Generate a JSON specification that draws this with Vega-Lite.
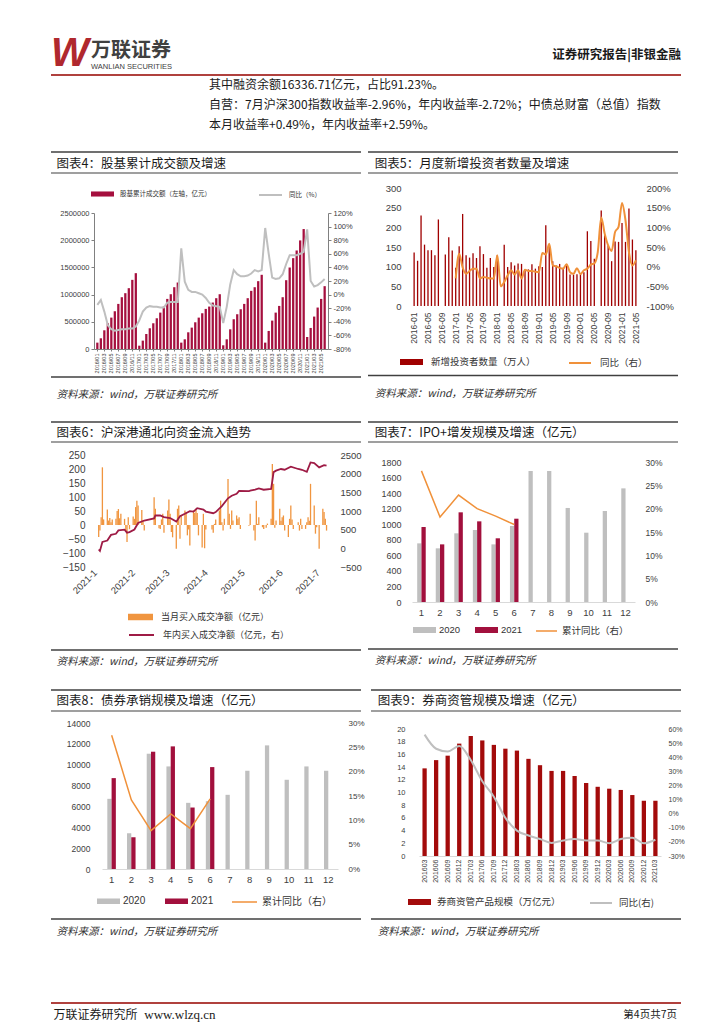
{
"$schema": "https://vega.github.io/schema/vega-lite/v6.json",
"padding": {"left": 50, "top": 28, "right": 0, "bottom": 0},
"background": "white",
"columns": 1,
"spacing": 0,
"resolve": {"scale": {"fill": "independent", "stroke": "independent", "color": "independent"}},
"config": {
  "view": {"stroke": null},
  "concat": {"spacing": 0},
  "axis": {"labelFont": "Liberation Sans", "labelColor": "#404040", "grid": false, "domain": false, "ticks": false, "labelOverlap": false, "labelBound": false, "labelFlush": false},
  "legend": {"labelFont": "Noto Sans CJK SC", "labelColor": "#333333", "padding": 0, "labelLimit": 400, "symbolStrokeWidth": 0, "titlePadding": 0},
  "text": {"font": "Noto Sans CJK SC"}
},
"datasets": {
  "c4": [
    {"m":"2016/01","v":117000,"y":-15},{"m":"2016/02","v":197000,"y":-8},{"m":"2016/03","v":344000,"y":-25},{"m":"2016/04","v":473000,"y":-45},{"m":"2016/05","v":577000,"y":-51},{"m":"2016/06","v":694000,"y":-53},{"m":"2016/07","v":829000,"y":-52},{"m":"2016/08","v":952000,"y":-51},{"m":"2016/09","v":1026000,"y":-51},{"m":"2016/10","v":1118000,"y":-50},{"m":"2016/11","v":1271000,"y":-50},{"m":"2016/12","v":1394000,"y":-47},
    {"m":"2017/01","v":61000,"y":-38},{"m":"2017/02","v":154000,"y":-25},{"m":"2017/03","v":276000,"y":-19},{"m":"2017/04","v":381000,"y":-17},{"m":"2017/05","v":473000,"y":-18},{"m":"2017/06","v":565000,"y":-18},{"m":"2017/07","v":669000,"y":-19},{"m":"2017/08","v":780000,"y":-19},{"m":"2017/09","v":921000,"y":-12},{"m":"2017/10","v":1007000,"y":-11},{"m":"2017/11","v":1136000,"y":-11},{"m":"2017/12","v":1222000,"y":-11},
    {"m":"2018/01","v":117000,"y":68},{"m":"2018/02","v":178000,"y":19},{"m":"2018/03","v":307000,"y":7},{"m":"2018/04","v":393000,"y":4},{"m":"2018/05","v":491000,"y":4},{"m":"2018/06","v":577000,"y":2},{"m":"2018/07","v":657000,"y":0},{"m":"2018/08","v":737000,"y":-5},{"m":"2018/09","v":780000,"y":-12},{"m":"2018/10","v":854000,"y":-16},{"m":"2018/11","v":934000,"y":-17},{"m":"2018/12","v":1007000,"y":-18},
    {"m":"2019/01","v":68000,"y":-42},{"m":"2019/02","v":178000,"y":-18},{"m":"2019/03","v":362000,"y":15},{"m":"2019/04","v":547000,"y":36},{"m":"2019/05","v":639000,"y":30},{"m":"2019/06","v":731000,"y":27},{"m":"2019/07","v":829000,"y":27},{"m":"2019/08","v":934000,"y":28},{"m":"2019/09","v":1069000,"y":31},{"m":"2019/10","v":1136000,"y":36},{"m":"2019/11","v":1247000,"y":34},{"m":"2019/12","v":1364000,"y":36},
    {"m":"2020/01","v":117000,"y":98},{"m":"2020/02","v":332000,"y":60},{"m":"2020/03","v":522000,"y":25},{"m":"2020/04","v":669000,"y":23},{"m":"2020/05","v":792000,"y":24},{"m":"2020/06","v":952000,"y":30},{"m":"2020/07","v":1265000,"y":45},{"m":"2020/08","v":1498000,"y":58},{"m":"2020/09","v":1670000,"y":58},{"m":"2020/10","v":1811000,"y":58},{"m":"2020/11","v":1996000,"y":60},{"m":"2020/12","v":2205000,"y":63},
    {"m":"2021/01","v":221000,"y":96},{"m":"2021/02","v":387000,"y":20},{"m":"2021/03","v":596000,"y":12},{"m":"2021/04","v":762000,"y":14},{"m":"2021/05","v":921000,"y":18},{"m":"2021/06","v":1155000,"y":23}
  ],
  "c5": [
    {"m":"2016-01","v":136,"y":null},{"m":"2016-02","v":115,"y":null},{"m":"2016-03","v":230,"y":null},{"m":"2016-04","v":156,"y":null},{"m":"2016-05","v":142,"y":null},{"m":"2016-06","v":142,"y":null},{"m":"2016-07","v":129,"y":null},{"m":"2016-08","v":220,"y":null},{"m":"2016-09","v":null,"y":null},{"m":"2016-10","v":131,"y":null},{"m":"2016-11","v":175,"y":null},{"m":"2016-12","v":141,"y":null},
    {"m":"2017-01","v":97,"y":-30},{"m":"2017-02","v":152,"y":33},{"m":"2017-03","v":234,"y":-2},{"m":"2017-04","v":129,"y":-18},{"m":"2017-05","v":123,"y":-11},{"m":"2017-06","v":134,"y":-5},{"m":"2017-07","v":122,"y":-5},{"m":"2017-08","v":152,"y":-30},{"m":"2017-09","v":132,"y":-26},{"m":"2017-10","v":97,"y":-28},{"m":"2017-11","v":122,"y":-30},{"m":"2017-12","v":99,"y":-30},
    {"m":"2018-01","v":129,"y":29},{"m":"2018-02","v":null,"y":-50},{"m":"2018-03","v":156,"y":-39},{"m":"2018-04","v":99,"y":-22},{"m":"2018-05","v":111,"y":-9},{"m":"2018-06","v":103,"y":-20},{"m":"2018-07","v":108,"y":-9},{"m":"2018-08","v":107,"y":-30},{"m":"2018-09","v":93,"y":-8},{"m":"2018-10","v":93,"y":-11},{"m":"2018-11","v":106,"y":-11},{"m":"2018-12","v":95,"y":-13},
    {"m":"2019-01","v":101,"y":-14},{"m":"2019-02","v":99,"y":35},{"m":"2019-03","v":205,"y":31},{"m":"2019-04","v":150,"y":58},{"m":"2019-05","v":114,"y":3},{"m":"2019-06","v":103,"y":1},{"m":"2019-07","v":107,"y":-3},{"m":"2019-08","v":97,"y":-5},{"m":"2019-09","v":103,"y":6},{"m":"2019-10","v":80,"y":-14},{"m":"2019-11","v":80,"y":-18},{"m":"2019-12","v":81,"y":-4},
    {"m":"2020-01","v":80,"y":-19},{"m":"2020-02","v":86,"y":-9},{"m":"2020-03","v":190,"y":-5},{"m":"2020-04","v":165,"y":5},{"m":"2020-05","v":120,"y":8},{"m":"2020-06","v":null,"y":37},{"m":"2020-07","v":243,"y":125},{"m":"2020-08","v":180,"y":84},{"m":"2020-09","v":154,"y":54},{"m":"2020-10","v":114,"y":40},{"m":"2020-11","v":164,"y":88},{"m":"2020-12","v":163,"y":101},
    {"m":"2021-01","v":211,"y":162},{"m":"2021-02","v":163,"y":118},{"m":"2021-03","v":248,"y":37},{"m":"2021-04","v":169,"y":3},{"m":"2021-05","v":142,"y":16}
  ],
  "c6f": [
    {"d":"2021-01-04","f":-43},{"d":"2021-01-05","f":-20},{"d":"2021-01-06","f":28},{"d":"2021-01-07","f":206},{"d":"2021-01-08","f":20},{"d":"2021-01-11","f":55},{"d":"2021-01-12","f":16},{"d":"2021-01-13","f":25},{"d":"2021-01-14","f":10},{"d":"2021-01-15","f":20},{"d":"2021-01-18","f":22},{"d":"2021-01-19","f":50},{"d":"2021-01-20","f":57},{"d":"2021-01-21","f":24},{"d":"2021-01-22","f":40},{"d":"2021-01-25","f":22},{"d":"2021-01-26","f":-25},{"d":"2021-01-27","f":-61},{"d":"2021-01-28","f":28},{"d":"2021-01-29","f":-15},
    {"d":"2021-02-01","f":30},{"d":"2021-02-02","f":22},{"d":"2021-02-03","f":64},{"d":"2021-02-04","f":87},{"d":"2021-02-05","f":70},{"d":"2021-02-08","f":54},{"d":"2021-02-09","f":16},{"d":"2021-02-10","f":-20},{"d":"2021-02-18","f":99},{"d":"2021-02-19","f":58},{"d":"2021-02-22","f":-12},{"d":"2021-02-23","f":-14},{"d":"2021-02-24","f":20},{"d":"2021-02-25","f":40},{"d":"2021-02-26","f":-28},
    {"d":"2021-03-01","f":52},{"d":"2021-03-02","f":91},{"d":"2021-03-03","f":40},{"d":"2021-03-04","f":-25},{"d":"2021-03-05","f":-44},{"d":"2021-03-08","f":-85},{"d":"2021-03-09","f":58},{"d":"2021-03-10","f":70},{"d":"2021-03-11","f":-49},{"d":"2021-03-12","f":34},{"d":"2021-03-15","f":52},{"d":"2021-03-16","f":46},{"d":"2021-03-17","f":-37},{"d":"2021-03-18","f":-16},{"d":"2021-03-19","f":-73},{"d":"2021-03-22","f":52},{"d":"2021-03-23","f":43},{"d":"2021-03-24","f":58},{"d":"2021-03-25","f":43},{"d":"2021-03-26","f":-37},{"d":"2021-03-29","f":-80},{"d":"2021-03-30","f":40},{"d":"2021-03-31","f":-83},
    {"d":"2021-04-01","f":-16},{"d":"2021-04-06","f":-16},{"d":"2021-04-07","f":-28},{"d":"2021-04-08","f":4},{"d":"2021-04-09","f":20},{"d":"2021-04-12","f":52},{"d":"2021-04-13","f":87},{"d":"2021-04-14","f":10},{"d":"2021-04-15","f":-20},{"d":"2021-04-16","f":22},{"d":"2021-04-19","f":164},{"d":"2021-04-20","f":40},{"d":"2021-04-21","f":-14},{"d":"2021-04-22","f":52},{"d":"2021-04-23","f":16},{"d":"2021-04-26","f":34},{"d":"2021-04-27","f":22},{"d":"2021-04-28","f":28},{"d":"2021-04-29","f":-14},
    {"d":"2021-05-06","f":-3},{"d":"2021-05-07","f":40},{"d":"2021-05-10","f":-20},{"d":"2021-05-11","f":-55},{"d":"2021-05-12","f":87},{"d":"2021-05-13","f":4},{"d":"2021-05-14","f":28},{"d":"2021-05-17","f":-8},{"d":"2021-05-18","f":-14},{"d":"2021-05-20","f":-10},{"d":"2021-05-21","f":5},{"d":"2021-05-24","f":22},{"d":"2021-05-25","f":218},{"d":"2021-05-26","f":147},{"d":"2021-05-27","f":-10},{"d":"2021-05-28","f":16},{"d":"2021-05-31","f":58},
    {"d":"2021-06-01","f":15},{"d":"2021-06-02","f":28},{"d":"2021-06-03","f":34},{"d":"2021-06-04","f":-20},{"d":"2021-06-07","f":-43},{"d":"2021-06-08","f":22},{"d":"2021-06-09","f":70},{"d":"2021-06-10","f":20},{"d":"2021-06-11","f":-14},{"d":"2021-06-15","f":10},{"d":"2021-06-16","f":-20},{"d":"2021-06-17","f":22},{"d":"2021-06-18","f":-14},{"d":"2021-06-21","f":-14},{"d":"2021-06-22","f":10},{"d":"2021-06-23","f":28},{"d":"2021-06-24","f":15},{"d":"2021-06-25","f":147},{"d":"2021-06-28","f":70},{"d":"2021-06-29","f":-31},{"d":"2021-06-30","f":-8},
    {"d":"2021-07-02","f":-85},{"d":"2021-07-05","f":58},{"d":"2021-07-06","f":46},{"d":"2021-07-07","f":22},{"d":"2021-07-08","f":-20}
  ],
  "c6c": [
    {"d":"2021-01-04","c":-30},{"d":"2021-01-05","c":-70},{"d":"2021-01-07","c":170},{"d":"2021-01-11","c":210},{"d":"2021-01-14","c":360},{"d":"2021-01-18","c":390},{"d":"2021-01-20","c":480},{"d":"2021-01-25","c":500},{"d":"2021-01-27","c":420},{"d":"2021-01-29","c":435},
    {"d":"2021-02-02","c":505},{"d":"2021-02-05","c":680},{"d":"2021-02-10","c":745},{"d":"2021-02-18","c":800},{"d":"2021-02-19","c":880},{"d":"2021-02-23","c":880},{"d":"2021-02-26","c":835},
    {"d":"2021-03-03","c":810},{"d":"2021-03-08","c":715},{"d":"2021-03-11","c":860},{"d":"2021-03-15","c":925},{"d":"2021-03-19","c":995},{"d":"2021-03-22","c":985},{"d":"2021-03-25","c":1075},{"d":"2021-03-30","c":1040},
    {"d":"2021-04-01","c":985},{"d":"2021-04-07","c":940},{"d":"2021-04-09","c":970},{"d":"2021-04-14","c":1130},{"d":"2021-04-19","c":1340},{"d":"2021-04-22","c":1410},{"d":"2021-04-26","c":1460},{"d":"2021-04-28","c":1540},
    {"d":"2021-05-06","c":1530},{"d":"2021-05-07","c":1545},{"d":"2021-05-11","c":1570},{"d":"2021-05-14","c":1605},{"d":"2021-05-18","c":1570},{"d":"2021-05-24","c":1590},{"d":"2021-05-25","c":1810},{"d":"2021-05-26","c":2040},{"d":"2021-05-28","c":2080},
    {"d":"2021-06-01","c":2125},{"d":"2021-06-04","c":2105},{"d":"2021-06-09","c":2185},{"d":"2021-06-15","c":2125},{"d":"2021-06-18","c":2105},{"d":"2021-06-22","c":2050},{"d":"2021-06-25","c":2300},{"d":"2021-06-28","c":2285},
    {"d":"2021-07-02","c":2170},{"d":"2021-07-06","c":2230},{"d":"2021-07-08","c":2215}
  ],
  "c7b": [
    {"mo":1,"yr":"2020","v":754},{"mo":2,"yr":"2020","v":690},{"mo":3,"yr":"2020","v":883},{"mo":4,"yr":"2020","v":926},{"mo":5,"yr":"2020","v":741},{"mo":6,"yr":"2020","v":977},{"mo":7,"yr":"2020","v":1684},{"mo":8,"yr":"2020","v":1684},{"mo":9,"yr":"2020","v":1209},{"mo":10,"yr":"2020","v":891},{"mo":11,"yr":"2020","v":1170},{"mo":12,"yr":"2020","v":1461},
    {"mo":1,"yr":"2021","v":964},{"mo":2,"yr":"2021","v":741},{"mo":3,"yr":"2021","v":1153},{"mo":4,"yr":"2021","v":1037},{"mo":5,"yr":"2021","v":819},{"mo":6,"yr":"2021","v":1071}
  ],
  "c7l": [{"mo":1,"r":28.1},{"mo":2,"r":18.2},{"mo":3,"r":22.9},{"mo":4,"r":20.0},{"mo":5,"r":18.4},{"mo":6,"r":16.6}],
  "c8b": [
    {"mo":1,"yr":"2020","v":6729},{"mo":2,"yr":"2020","v":3428},{"mo":3,"yr":"2020","v":11054},{"mo":4,"yr":"2020","v":9836},{"mo":5,"yr":"2020","v":6344},{"mo":6,"yr":"2020","v":6500},{"mo":7,"yr":"2020","v":7113},{"mo":8,"yr":"2020","v":9420},{"mo":9,"yr":"2020","v":11855},{"mo":10,"yr":"2020","v":8555},{"mo":11,"yr":"2020","v":9836},{"mo":12,"yr":"2020","v":9420},
    {"mo":1,"yr":"2021","v":8715},{"mo":2,"yr":"2021","v":3044},{"mo":3,"yr":"2021","v":11246},{"mo":4,"yr":"2021","v":11759},{"mo":5,"yr":"2021","v":5895},{"mo":6,"yr":"2021","v":9772}
  ],
  "c8l": [{"mo":1,"r":27.5},{"mo":2,"r":14.2},{"mo":3,"r":7.9},{"mo":4,"r":11.3},{"mo":5,"r":8.3},{"mo":6,"r":14.4}],
  "c9": [
    {"q":"201603","v":13.8,"y":56},{"q":"201606","v":15.1,"y":46},{"q":"201609","v":15.8,"y":44},{"q":"201612","v":17.7,"y":48},{"q":"201703","v":18.9,"y":38},{"q":"201706","v":18.2,"y":23},{"q":"201709","v":17.5,"y":12},{"q":"201712","v":16.9,"y":-3},{"q":"201803","v":16.6,"y":-12},{"q":"201806","v":15.3,"y":-15.5},{"q":"201809","v":14.3,"y":-18},{"q":"201812","v":13.4,"y":-20.7},{"q":"201903","v":13.4,"y":-19},{"q":"201906","v":12.6,"y":-18},{"q":"201909","v":11.5,"y":-19},{"q":"201912","v":10.9,"y":-19},{"q":"202003","v":10.6,"y":-21},{"q":"202006","v":10.4,"y":-18},{"q":"202009","v":9.6,"y":-17},{"q":"202012","v":8.7,"y":-21},{"q":"202103","v":8.7,"y":-18.5}
  ]
},
"concat": [
  {"width": 630, "height": 50, "data": {"values": [{}]},
   "layer": [
    {"mark": {"type":"text","text":"W","font":"Liberation Sans","fontSize":40,"fontWeight":"bold","fontStyle":"italic","color":"#B0282E","align":"left","baseline":"alphabetic"},
     "encoding": {"x":{"datum":0,"type":"quantitative","scale":{"domain":[0,1],"nice":false},"axis":null},"y":{"datum":38,"type":"quantitative","scale":{"domain":[0,50],"nice":false,"reverse":true},"axis":null}}},
    {"mark": {"type":"text","text":"万联证券","font":"Noto Sans CJK SC","fontSize":20,"fontWeight":"bold","color":"#404040","align":"left","baseline":"alphabetic"},
     "encoding": {"x":{"datum":0.0635,"type":"quantitative","scale":{"domain":[0,1],"nice":false},"axis":null},"y":{"datum":29,"type":"quantitative","scale":{"domain":[0,50],"nice":false,"reverse":true},"axis":null}}},
    {"mark": {"type":"text","text":"WANLIAN SECURITIES","font":"Liberation Sans","fontSize":7.5,"color":"#404040","align":"left","baseline":"alphabetic"},
     "encoding": {"x":{"datum":0.0635,"type":"quantitative","scale":{"domain":[0,1],"nice":false},"axis":null},"y":{"datum":41,"type":"quantitative","scale":{"domain":[0,50],"nice":false,"reverse":true},"axis":null}}},
    {"mark": {"type":"text","text":"证券研究报告|非银金融","font":"Noto Sans CJK SC","fontSize":12.5,"fontWeight":"bold","color":"#1a1a1a","align":"right","baseline":"middle"},
     "encoding": {"x":{"datum":1,"type":"quantitative","scale":{"domain":[0,1],"nice":false},"axis":null},"y":{"datum":27,"type":"quantitative","scale":{"domain":[0,50],"nice":false,"reverse":true},"axis":null}}},
    {"mark": {"type":"rule","color":"#B0413E","strokeWidth":2},
     "encoding": {"x":{"datum":0,"type":"quantitative","scale":{"domain":[0,1],"nice":false},"axis":null},"x2":{"datum":1},"y":{"datum":47,"type":"quantitative","scale":{"domain":[0,50],"nice":false,"reverse":true},"axis":null}}}
   ]},
  {"width": 630, "height": 68,
   "data": {"values": [{"line":1,"text":"其中融资余额16336.71亿元，占比91.23%。"},{"line":2,"text":"自营：7月沪深300指数收益率-2.96%，年内收益率-2.72%；中债总财富（总值）指数"},{"line":3,"text":"本月收益率+0.49%，年内收益率+2.59%。"}]},
   "mark": {"type":"text","align":"left","baseline":"middle","font":"Noto Sans CJK SC","fontSize":12,"color":"#1a1a1a"},
   "encoding": {"x":{"datum":0.2508,"type":"quantitative","scale":{"domain":[0,1],"nice":false},"axis":null},"y":{"field":"line","type":"quantitative","scale":{"domain":[0.75,4.15],"nice":false,"reverse":true},"axis":null},"text":{"field":"text"}}},
  {"columns": 2, "spacing": 5,
   "resolve": {"scale": {"fill": "independent", "stroke": "independent", "color": "independent"}},
   "concat": [
    {"columns": 1, "spacing": 0,
     "resolve": {"scale": {"fill": "independent", "stroke": "independent", "color": "independent"}},
     "concat": [
      {"width":310,"height":33.5,"data":{"values":[{"t":"图表4：股基累计成交额及增速"}]},
       "layer":[
        {"mark":{"type":"rule","color":"#404040","strokeWidth":1.5},"encoding":{"x":{"datum":0,"type":"quantitative","scale":{"domain":[0,1],"nice":false},"axis":null},"x2":{"datum":1},"y":{"datum":4,"type":"quantitative","scale":{"domain":[0,33.5],"nice":false,"reverse":true},"axis":null}}},
        {"mark":{"type":"rule","color":"#404040","strokeWidth":1.2},"encoding":{"x":{"datum":0,"type":"quantitative","scale":{"domain":[0,1],"nice":false},"axis":null},"x2":{"datum":1},"y":{"datum":25,"type":"quantitative","scale":{"domain":[0,33.5],"nice":false,"reverse":true},"axis":null}}},
        {"mark":{"type":"text","align":"left","baseline":"middle","font":"Noto Sans CJK SC","fontSize":12.5,"color":"#1a1a1a"},"encoding":{"x":{"datum":0.018,"type":"quantitative","scale":{"domain":[0,1],"nice":false},"axis":null},"y":{"datum":15.5,"type":"quantitative","scale":{"domain":[0,33.5],"nice":false,"reverse":true},"axis":null},"text":{"field":"t"}}}
       ]},
      {"columns": 2, "spacing": 0,
       "resolve": {"scale": {"fill": "independent", "stroke": "independent", "color": "independent"}},
       "concat": [
        {"width":1,"height":1,"data":{"values":[]},"mark":"text"},
        {"width":234,"height":136,"data":{"name":"c4"},
         "encoding":{"x":{"field":"m","type":"ordinal","sort":null,"title":null,"scale":{"paddingInner":0.35,"paddingOuter":0.63},
           "axis":{"values":["2016/01","2016/03","2016/05","2016/07","2016/09","2016/11","2017/01","2017/03","2017/05","2017/07","2017/09","2017/11","2018/01","2018/03","2018/05","2018/07","2018/09","2018/11","2019/01","2019/03","2019/05","2019/07","2019/09","2019/11","2020/01","2020/03","2020/05","2020/07","2020/09","2020/11","2021/01","2021/03","2021/05"],
            "labelAngle":-90,"labelFontSize":5.5,"labelPadding":2,"domain":true,"domainColor":"#808080","ticks":true,"tickColor":"#808080","tickSize":2}}},
         "layer":[
          {"mark":{"type":"bar"},
           "encoding":{"y":{"field":"v","type":"quantitative","title":null,"scale":{"domain":[0,2500000],"nice":false},
             "axis":{"values":[0,500000,1000000,1500000,2000000,2500000],"format":"d","labelFontSize":7.5,"domain":true,"domainColor":"#808080","ticks":true,"tickColor":"#808080","tickSize":3,"labelPadding":2,"minExtent":42}},
            "fill":{"datum":"股基累计成交额（左轴，亿元）","scale":{"range":["#A50F3E"]},
             "legend":{"orient":"none","legendX":-3,"legendY":-30.5,"title":null,"symbolType":"M-1,-0.22H1V0.22H-1Z","symbolSize":529,"labelFontSize":6.5,"labelOffset":6}}}},
          {"mark":{"type":"line","strokeWidth":2},
           "encoding":{"y":{"field":"y","type":"quantitative","title":null,"scale":{"domain":[-80,120],"nice":false},
             "axis":{"orient":"right","values":[-80,-60,-40,-20,0,20,40,60,80,100,120],"labelExpr":"datum.value + '%'","labelFontSize":7.5,"domain":true,"domainColor":"#808080","ticks":true,"tickColor":"#808080","tickSize":3,"labelPadding":2}},
            "stroke":{"datum":"同比（%）","scale":{"range":["#BFBFBF"]},
             "legend":{"orient":"none","legendX":164,"legendY":-30.5,"title":null,"symbolType":"stroke","symbolSize":529,"symbolStrokeWidth":2,"labelFontSize":6.5,"labelOffset":6}}}}
         ],
         "resolve":{"scale":{"y":"independent"}}}
       ]},
      {"width":310,"height":46,"data":{"values":[{"t":"资料来源：wind，万联证券研究所"}]},
       "layer":[
        {"mark":{"type":"rule","color":"#404040","strokeWidth":1.5},"encoding":{"x":{"datum":0,"type":"quantitative","scale":{"domain":[0,1],"nice":false},"axis":null},"x2":{"datum":1},"y":{"datum":4,"type":"quantitative","scale":{"domain":[0,46],"nice":false,"reverse":true},"axis":null}}},
        {"mark":{"type":"text","align":"left","baseline":"middle","font":"Noto Sans CJK SC","fontSize":10.5,"fontStyle":"italic","color":"#333333"},"encoding":{"x":{"datum":0.018,"type":"quantitative","scale":{"domain":[0,1],"nice":false},"axis":null},"y":{"datum":21.5,"type":"quantitative","scale":{"domain":[0,46],"nice":false,"reverse":true},"axis":null},"text":{"field":"t"}}}
       ]}
    ]},
    {"columns": 1, "spacing": 0,
     "resolve": {"scale": {"fill": "independent", "stroke": "independent", "color": "independent"}},
     "concat": [
      {"width":310,"height":35,"data":{"values":[{"t":"图表5：月度新增投资者数量及增速"}]},
       "layer":[
        {"mark":{"type":"rule","color":"#404040","strokeWidth":1.5},"encoding":{"x":{"datum":0,"type":"quantitative","scale":{"domain":[0,1],"nice":false},"axis":null},"x2":{"datum":1},"y":{"datum":4,"type":"quantitative","scale":{"domain":[0,35],"nice":false,"reverse":true},"axis":null}}},
        {"mark":{"type":"rule","color":"#404040","strokeWidth":1.2},"encoding":{"x":{"datum":0,"type":"quantitative","scale":{"domain":[0,1],"nice":false},"axis":null},"x2":{"datum":1},"y":{"datum":25,"type":"quantitative","scale":{"domain":[0,35],"nice":false,"reverse":true},"axis":null}}},
        {"mark":{"type":"text","align":"left","baseline":"middle","font":"Noto Sans CJK SC","fontSize":12.5,"color":"#1a1a1a"},"encoding":{"x":{"datum":0.022,"type":"quantitative","scale":{"domain":[0,1],"nice":false},"axis":null},"y":{"datum":15.5,"type":"quantitative","scale":{"domain":[0,35],"nice":false,"reverse":true},"axis":null},"text":{"field":"t"}}}
       ]},
      {"columns": 2, "spacing": 0,
       "resolve": {"scale": {"fill": "independent", "stroke": "independent", "color": "independent"}},
       "concat": [
        {"width":1,"height":1,"data":{"values":[]},"mark":"text"},
        {"width":230,"height":118,"data":{"name":"c5"},
         "encoding":{"x":{"field":"m","type":"ordinal","title":null,
           "scale":{"domain":["2016-01","2016-02","2016-03","2016-04","2016-05","2016-06","2016-07","2016-08","2016-09","2016-10","2016-11","2016-12","2017-01","2017-02","2017-03","2017-04","2017-05","2017-06","2017-07","2017-08","2017-09","2017-10","2017-11","2017-12","2018-01","2018-02","2018-03","2018-04","2018-05","2018-06","2018-07","2018-08","2018-09","2018-10","2018-11","2018-12","2019-01","2019-02","2019-03","2019-04","2019-05","2019-06","2019-07","2019-08","2019-09","2019-10","2019-11","2019-12","2020-01","2020-02","2020-03","2020-04","2020-05","2020-06","2020-07","2020-08","2020-09","2020-10","2020-11","2020-12","2021-01","2021-02","2021-03","2021-04","2021-05"],"paddingInner":0.62,"paddingOuter":1.2},
           "axis":{"values":["2016-01","2016-05","2016-09","2017-01","2017-05","2017-09","2018-01","2018-05","2018-09","2019-01","2019-05","2019-09","2020-01","2020-05","2020-09","2021-01","2021-05"],"labelAngle":-90,"labelFontSize":8.5,"labelPadding":6}}},
         "layer":[
          {"mark":{"type":"bar"},
           "encoding":{"y":{"field":"v","type":"quantitative","title":null,"scale":{"domain":[0,300],"nice":false},
             "axis":{"values":[0,50,100,150,200,250,300],"labelFontSize":9.5,"labelPadding":9,"minExtent":41}},
            "fill":{"datum":"新增投资者数量（万人）","scale":{"range":["#A00000"]},
             "legend":{"orient":"none","legendX":-10,"legendY":162.5,"title":null,"symbolType":"M-1,-0.26H1V0.26H-1Z","symbolSize":529,"labelFontSize":9.5,"labelOffset":8}}}},
          {"mark":{"type":"line","strokeWidth":2,"interpolate":"monotone"},
           "encoding":{"y":{"field":"y","type":"quantitative","title":null,"scale":{"domain":[-100,200],"nice":false},
             "axis":{"orient":"right","values":[-100,-50,0,50,100,150,200],"labelExpr":"datum.value + '%'","labelFontSize":9.5,"labelPadding":6}},
            "stroke":{"datum":"同比（右）","scale":{"range":["#F0913A"]},
             "legend":{"orient":"none","legendX":158,"legendY":163,"title":null,"symbolType":"stroke","symbolSize":484,"symbolStrokeWidth":2,"labelFontSize":9.5,"labelOffset":8}}}}
         ],
         "resolve":{"scale":{"y":"independent"}}}
       ]},
      {"width":310,"height":50.5,"data":{"values":[{"t":"资料来源：wind，万联证券研究所"}]},
       "layer":[
        {"mark":{"type":"rule","color":"#404040","strokeWidth":1.5},"encoding":{"x":{"datum":0,"type":"quantitative","scale":{"domain":[0,1],"nice":false},"axis":null},"x2":{"datum":1},"y":{"datum":7.5,"type":"quantitative","scale":{"domain":[0,50.5],"nice":false,"reverse":true},"axis":null}}},
        {"mark":{"type":"text","align":"left","baseline":"middle","font":"Noto Sans CJK SC","fontSize":10.5,"fontStyle":"italic","color":"#333333"},"encoding":{"x":{"datum":0.022,"type":"quantitative","scale":{"domain":[0,1],"nice":false},"axis":null},"y":{"datum":25.5,"type":"quantitative","scale":{"domain":[0,50.5],"nice":false,"reverse":true},"axis":null},"text":{"field":"t"}}}
       ]}
    ]}
  ]},
  {"columns": 2, "spacing": 5,
   "resolve": {"scale": {"fill": "independent", "stroke": "independent", "color": "independent"}},
   "concat": [
    {"columns": 1, "spacing": 0,
     "resolve": {"scale": {"fill": "independent", "stroke": "independent", "color": "independent"}},
     "concat": [
      {"width":310,"height":31,"data":{"values":[{"t":"图表6：沪深港通北向资金流入趋势"}]},
       "layer":[
        {"mark":{"type":"rule","color":"#404040","strokeWidth":1.5},"encoding":{"x":{"datum":0,"type":"quantitative","scale":{"domain":[0,1],"nice":false},"axis":null},"x2":{"datum":1},"y":{"datum":3,"type":"quantitative","scale":{"domain":[0,31],"nice":false,"reverse":true},"axis":null}}},
        {"mark":{"type":"rule","color":"#404040","strokeWidth":1.2},"encoding":{"x":{"datum":0,"type":"quantitative","scale":{"domain":[0,1],"nice":false},"axis":null},"x2":{"datum":1},"y":{"datum":23,"type":"quantitative","scale":{"domain":[0,31],"nice":false,"reverse":true},"axis":null}}},
        {"mark":{"type":"text","align":"left","baseline":"middle","font":"Noto Sans CJK SC","fontSize":12.5,"color":"#1a1a1a"},"encoding":{"x":{"datum":0.018,"type":"quantitative","scale":{"domain":[0,1],"nice":false},"axis":null},"y":{"datum":13.5,"type":"quantitative","scale":{"domain":[0,31],"nice":false,"reverse":true},"axis":null},"text":{"field":"t"}}}
       ]},
      {"columns": 2, "spacing": 0,
       "resolve": {"scale": {"fill": "independent", "stroke": "independent", "color": "independent"}},
       "concat": [
        {"width":1,"height":1,"data":{"values":[]},"mark":"text"},
        {"width":244,"height":112,
         "layer":[
          {"data":{"name":"c6f"},"mark":{"type":"bar","width":1.3},
           "encoding":{"x":{"field":"d","type":"temporal","title":null,"scale":{"domain":[{"year":2021,"month":1,"date":1},{"year":2021,"month":7,"date":10}]},
             "axis":{"values":[{"year":2021,"month":1,"date":1},{"year":2021,"month":2,"date":1},{"year":2021,"month":3,"date":1},{"year":2021,"month":4,"date":1},{"year":2021,"month":5,"date":1},{"year":2021,"month":6,"date":1},{"year":2021,"month":7,"date":1}],"format":"%Y-%-m","labelAngle":-45,"labelAlign":"right","labelBaseline":"middle","labelFontSize":9.5,"labelPadding":4}},
            "y":{"field":"f","type":"quantitative","title":null,"scale":{"domain":[-150,250],"nice":false},
             "axis":{"values":[-150,-100,-50,0,50,100,150,200,250],"format":"d","labelFontSize":10,"labelPadding":5,"minExtent":38}},
            "fill":{"datum":"当月买入成交净额（亿元）","scale":{"range":["#F0953F"]},
             "legend":{"orient":"none","legendX":38,"legendY":149.5,"title":null,"symbolType":"M-1,-0.26H1V0.26H-1Z","symbolSize":625,"labelFontSize":9,"labelOffset":8}}}},
          {"data":{"name":"c6c"},"mark":{"type":"line","strokeWidth":1.8},
           "encoding":{"x":{"field":"d","type":"temporal"},
            "y":{"field":"c","type":"quantitative","title":null,"scale":{"domain":[-500,2500],"nice":false},
             "axis":{"orient":"right","values":[-500,0,500,1000,1500,2000,2500],"format":"d","labelFontSize":9.5,"labelPadding":6}},
            "stroke":{"datum":"年内买入成交净额（亿元，右）","scale":{"range":["#9E1B45"]},
             "legend":{"orient":"none","legendX":38,"legendY":166.5,"title":null,"symbolType":"stroke","symbolSize":625,"symbolStrokeWidth":2,"labelFontSize":9,"labelOffset":8}}}}
         ],
         "resolve":{"scale":{"y":"independent"}}}
       ]},
      {"width":310,"height":44.5,"data":{"values":[{"t":"资料来源：wind，万联证券研究所"}]},
       "layer":[
        {"mark":{"type":"rule","color":"#404040","strokeWidth":1.5},"encoding":{"x":{"datum":0,"type":"quantitative","scale":{"domain":[0,1],"nice":false},"axis":null},"x2":{"datum":1},"y":{"datum":9,"type":"quantitative","scale":{"domain":[0,44.5],"nice":false,"reverse":true},"axis":null}}},
        {"mark":{"type":"text","align":"left","baseline":"middle","font":"Noto Sans CJK SC","fontSize":10.5,"fontStyle":"italic","color":"#333333"},"encoding":{"x":{"datum":0.018,"type":"quantitative","scale":{"domain":[0,1],"nice":false},"axis":null},"y":{"datum":21,"type":"quantitative","scale":{"domain":[0,44.5],"nice":false,"reverse":true},"axis":null},"text":{"field":"t"}}}
       ]}
    ]},
    {"columns": 1, "spacing": 0,
     "resolve": {"scale": {"fill": "independent", "stroke": "independent", "color": "independent"}},
     "concat": [
      {"width":310,"height":38.5,"data":{"values":[{"t":"图表7：IPO+增发规模及增速（亿元）"}]},
       "layer":[
        {"mark":{"type":"rule","color":"#404040","strokeWidth":1.5},"encoding":{"x":{"datum":0,"type":"quantitative","scale":{"domain":[0,1],"nice":false},"axis":null},"x2":{"datum":1},"y":{"datum":3,"type":"quantitative","scale":{"domain":[0,38.5],"nice":false,"reverse":true},"axis":null}}},
        {"mark":{"type":"rule","color":"#404040","strokeWidth":1.2},"encoding":{"x":{"datum":0,"type":"quantitative","scale":{"domain":[0,1],"nice":false},"axis":null},"x2":{"datum":1},"y":{"datum":23,"type":"quantitative","scale":{"domain":[0,38.5],"nice":false,"reverse":true},"axis":null}}},
        {"mark":{"type":"text","align":"left","baseline":"middle","font":"Noto Sans CJK SC","fontSize":12.5,"color":"#1a1a1a"},"encoding":{"x":{"datum":0.022,"type":"quantitative","scale":{"domain":[0,1],"nice":false},"axis":null},"y":{"datum":13.5,"type":"quantitative","scale":{"domain":[0,38.5],"nice":false,"reverse":true},"axis":null},"text":{"field":"t"}}}
       ]},
      {"columns": 2, "spacing": 0,
       "resolve": {"scale": {"fill": "independent", "stroke": "independent", "color": "independent"}},
       "concat": [
        {"width":1,"height":1,"data":{"values":[]},"mark":"text"},
        {"width":223,"height":140,
         "layer":[
          {"data":{"name":"c7b"},"mark":{"type":"bar"},
           "encoding":{"x":{"field":"mo","type":"ordinal","title":null,"scale":{"paddingInner":0.54,"paddingOuter":0.28},"axis":{"labelAngle":0,"labelFontSize":9.5,"labelPadding":5,"domain":true,"domainColor":"#D9D9D9"}},
            "xOffset":{"field":"yr","type":"nominal","scale":{"domain":["2020","2021"],"paddingInner":0,"paddingOuter":0}},
            "y":{"field":"v","type":"quantitative","title":null,"scale":{"domain":[0,1800],"nice":false},
             "axis":{"values":[0,200,400,600,800,1000,1200,1400,1600,1800],"format":"d","labelFontSize":9,"labelPadding":11,"minExtent":43}},
            "fill":{"field":"yr","type":"nominal","scale":{"domain":["2020","2021"],"range":["#BFBFBF","#A2103D"]},
             "legend":{"orient":"none","direction":"horizontal","legendX":1,"legendY":156.5,"title":null,"labelFont":"Liberation Sans","symbolType":"M-1,-0.26H1V0.26H-1Z","symbolSize":529,"labelFontSize":9.5,"labelOffset":3,"columnPadding":14}}}},
          {"data":{"name":"c7l"},"mark":{"type":"line","strokeWidth":1.5},
           "encoding":{"x":{"field":"mo","type":"ordinal"},
            "y":{"field":"r","type":"quantitative","title":null,"scale":{"domain":[0,30],"nice":false},
             "axis":{"orient":"right","values":[0,5,10,15,20,25,30],"labelExpr":"datum.value + '%'","labelFontSize":8.5,"labelPadding":10}},
            "stroke":{"datum":"累计同比（右）","scale":{"range":["#F0913A"]},
             "legend":{"orient":"none","legendX":123,"legendY":157.5,"title":null,"symbolType":"stroke","symbolSize":441,"symbolStrokeWidth":1.5,"labelFontSize":9.5,"labelOffset":4}}}}
         ],
         "resolve":{"scale":{"y":"independent"}}}
       ]},
      {"width":310,"height":48.5,"data":{"values":[{"t":"资料来源：wind，万联证券研究所"}]},
       "layer":[
        {"mark":{"type":"rule","color":"#404040","strokeWidth":1.5},"encoding":{"x":{"datum":0,"type":"quantitative","scale":{"domain":[0,1],"nice":false},"axis":null},"x2":{"datum":1},"y":{"datum":13,"type":"quantitative","scale":{"domain":[0,48.5],"nice":false,"reverse":true},"axis":null}}},
        {"mark":{"type":"text","align":"left","baseline":"middle","font":"Noto Sans CJK SC","fontSize":10.5,"fontStyle":"italic","color":"#333333"},"encoding":{"x":{"datum":0.022,"type":"quantitative","scale":{"domain":[0,1],"nice":false},"axis":null},"y":{"datum":25,"type":"quantitative","scale":{"domain":[0,48.5],"nice":false,"reverse":true},"axis":null},"text":{"field":"t"}}}
       ]}
    ]}
  ]},
  {"columns": 2, "spacing": 5,
   "resolve": {"scale": {"fill": "independent", "stroke": "independent", "color": "independent"}},
   "concat": [
    {"columns": 1, "spacing": 0,
     "resolve": {"scale": {"fill": "independent", "stroke": "independent", "color": "independent"}},
     "concat": [
      {"width":310,"height":33,"data":{"values":[{"t":"图表8：债券承销规模及增速（亿元）"}]},
       "layer":[
        {"mark":{"type":"rule","color":"#404040","strokeWidth":1.5},"encoding":{"x":{"datum":0,"type":"quantitative","scale":{"domain":[0,1],"nice":false},"axis":null},"x2":{"datum":1},"y":{"datum":4,"type":"quantitative","scale":{"domain":[0,33],"nice":false,"reverse":true},"axis":null}}},
        {"mark":{"type":"rule","color":"#404040","strokeWidth":1.2},"encoding":{"x":{"datum":0,"type":"quantitative","scale":{"domain":[0,1],"nice":false},"axis":null},"x2":{"datum":1},"y":{"datum":25,"type":"quantitative","scale":{"domain":[0,33],"nice":false,"reverse":true},"axis":null}}},
        {"mark":{"type":"text","align":"left","baseline":"middle","font":"Noto Sans CJK SC","fontSize":12.5,"color":"#1a1a1a"},"encoding":{"x":{"datum":0.018,"type":"quantitative","scale":{"domain":[0,1],"nice":false},"axis":null},"y":{"datum":15,"type":"quantitative","scale":{"domain":[0,33],"nice":false,"reverse":true},"axis":null},"text":{"field":"t"}}}
       ]},
      {"columns": 2, "spacing": 0,
       "resolve": {"scale": {"fill": "independent", "stroke": "independent", "color": "independent"}},
       "concat": [
        {"width":1,"height":1,"data":{"values":[]},"mark":"text"},
        {"width":236,"height":146,
         "layer":[
          {"data":{"name":"c8b"},"mark":{"type":"bar"},
           "encoding":{"x":{"field":"mo","type":"ordinal","title":null,"scale":{"paddingInner":0.56,"paddingOuter":0.27},"axis":{"labelAngle":0,"labelFontSize":9.5,"labelPadding":5,"domain":true,"domainColor":"#D9D9D9"}},
            "xOffset":{"field":"yr","type":"nominal","scale":{"domain":["2020","2021"],"paddingInner":0,"paddingOuter":0}},
            "y":{"field":"v","type":"quantitative","title":null,"scale":{"domain":[0,14000],"nice":false},
             "axis":{"values":[0,2000,4000,6000,8000,10000,12000,14000],"format":"d","labelFontSize":8.5,"labelPadding":12,"minExtent":50}},
            "fill":{"field":"yr","type":"nominal","scale":{"domain":["2020","2021"],"range":["#BFBFBF","#A2103D"]},
             "legend":{"orient":"none","direction":"horizontal","legendX":-5,"legendY":166.5,"title":null,"labelFont":"Liberation Sans","symbolType":"M-1,-0.24H1V0.24H-1Z","symbolSize":529,"labelFontSize":10,"labelOffset":3,"columnPadding":19}}}},
          {"data":{"name":"c8l"},"mark":{"type":"line","strokeWidth":1.5},
           "encoding":{"x":{"field":"mo","type":"ordinal"},
            "y":{"field":"r","type":"quantitative","title":null,"scale":{"domain":[0,30],"nice":false},
             "axis":{"orient":"right","values":[0,5,10,15,20,25,30],"labelExpr":"datum.value + '%'","labelFontSize":8,"labelPadding":10}},
            "stroke":{"datum":"累计同比（右）","scale":{"range":["#F0913A"]},
             "legend":{"orient":"none","legendX":129,"legendY":165.5,"title":null,"symbolType":"stroke","symbolSize":625,"symbolStrokeWidth":1.5,"labelFontSize":10,"labelOffset":4}}}}
         ],
         "resolve":{"scale":{"y":"independent"}}}
       ]},
      {"width":310,"height":44,"data":{"values":[{"t":"资料来源：wind，万联证券研究所"}]},
       "layer":[
        {"mark":{"type":"rule","color":"#404040","strokeWidth":1.5},"encoding":{"x":{"datum":0,"type":"quantitative","scale":{"domain":[0,1],"nice":false},"axis":null},"x2":{"datum":1},"y":{"datum":11,"type":"quantitative","scale":{"domain":[0,44],"nice":false,"reverse":true},"axis":null}}},
        {"mark":{"type":"text","align":"left","baseline":"middle","font":"Noto Sans CJK SC","fontSize":10.5,"fontStyle":"italic","color":"#333333"},"encoding":{"x":{"datum":0.018,"type":"quantitative","scale":{"domain":[0,1],"nice":false},"axis":null},"y":{"datum":24,"type":"quantitative","scale":{"domain":[0,44],"nice":false,"reverse":true},"axis":null},"text":{"field":"t"}}}
       ]}
    ]},
    {"columns": 1, "spacing": 0,
     "resolve": {"scale": {"fill": "independent", "stroke": "independent", "color": "independent"}},
     "concat": [
      {"width":310,"height":38.5,"data":{"values":[{"t":"图表9：券商资管规模及增速（亿元）"}]},
       "layer":[
        {"mark":{"type":"rule","color":"#404040","strokeWidth":1.5},"encoding":{"x":{"datum":0,"type":"quantitative","scale":{"domain":[0,1],"nice":false},"axis":null},"x2":{"datum":1},"y":{"datum":4,"type":"quantitative","scale":{"domain":[0,38.5],"nice":false,"reverse":true},"axis":null}}},
        {"mark":{"type":"rule","color":"#404040","strokeWidth":1.2},"encoding":{"x":{"datum":0,"type":"quantitative","scale":{"domain":[0,1],"nice":false},"axis":null},"x2":{"datum":1},"y":{"datum":25,"type":"quantitative","scale":{"domain":[0,38.5],"nice":false,"reverse":true},"axis":null}}},
        {"mark":{"type":"text","align":"left","baseline":"middle","font":"Noto Sans CJK SC","fontSize":12.5,"color":"#1a1a1a"},"encoding":{"x":{"datum":0.022,"type":"quantitative","scale":{"domain":[0,1],"nice":false},"axis":null},"y":{"datum":15,"type":"quantitative","scale":{"domain":[0,38.5],"nice":false,"reverse":true},"axis":null},"text":{"field":"t"}}}
       ]},
      {"columns": 2, "spacing": 0,
       "resolve": {"scale": {"fill": "independent", "stroke": "independent", "color": "independent"}},
       "concat": [
        {"width":1,"height":1,"data":{"values":[]},"mark":"text"},
        {"width":242,"height":127,"data":{"name":"c9"},
         "encoding":{"x":{"field":"q","type":"ordinal","title":null,"scale":{"paddingInner":0.63,"paddingOuter":0.3},"axis":{"labelAngle":-90,"labelFontSize":7,"labelPadding":3,"domain":true,"domainColor":"#D9D9D9"}}},
         "layer":[
          {"mark":{"type":"bar"},
           "encoding":{"y":{"field":"v","type":"quantitative","title":null,"scale":{"domain":[0,20],"nice":false},
             "axis":{"values":[0,2,4,6,8,10,12,14,16,18,20],"labelFontSize":7.5,"labelPadding":14,"minExtent":47}},
            "fill":{"datum":"券商资管产品规模（万亿元）","scale":{"range":["#A30B0B"]},
             "legend":{"orient":"none","legendX":-11,"legendY":161.5,"title":null,"symbolType":"M-1,-0.26H1V0.26H-1Z","symbolSize":529,"labelFontSize":9.5,"labelOffset":6}}}},
          {"mark":{"type":"line","strokeWidth":2,"interpolate":"monotone"},
           "encoding":{"y":{"field":"y","type":"quantitative","title":null,"scale":{"domain":[-30,60],"nice":false},
             "axis":{"orient":"right","values":[-30,-20,-10,0,10,20,30,40,50,60],"labelExpr":"datum.value + '%'","labelFontSize":7,"labelPadding":7}},
            "stroke":{"datum":"同比(右)","scale":{"range":["#BFBFBF"]},
             "legend":{"orient":"none","legendX":170,"legendY":162,"title":null,"symbolType":"stroke","symbolSize":484,"symbolStrokeWidth":2,"labelFontSize":9.5,"labelOffset":6}}}}
         ],
         "resolve":{"scale":{"y":"independent"}}}
       ]},
      {"width":310,"height":44,"data":{"values":[{"t":"资料来源：wind，万联证券研究所"}]},
       "layer":[
        {"mark":{"type":"rule","color":"#404040","strokeWidth":1.5},"encoding":{"x":{"datum":0,"type":"quantitative","scale":{"domain":[0,1],"nice":false},"axis":null},"x2":{"datum":1},"y":{"datum":11,"type":"quantitative","scale":{"domain":[0,44],"nice":false,"reverse":true},"axis":null}}},
        {"mark":{"type":"text","align":"left","baseline":"middle","font":"Noto Sans CJK SC","fontSize":10.5,"fontStyle":"italic","color":"#333333"},"encoding":{"x":{"datum":0.022,"type":"quantitative","scale":{"domain":[0,1],"nice":false},"axis":null},"y":{"datum":24,"type":"quantitative","scale":{"domain":[0,44],"nice":false,"reverse":true},"axis":null},"text":{"field":"t"}}}
       ]}
    ]}
  ]},
  {"width": 630, "height": 77, "data": {"values": [{}]},
   "layer": [
    {"mark": {"type":"rule","color":"#B0413E","strokeWidth":2},
     "encoding": {"x":{"datum":0,"type":"quantitative","scale":{"domain":[0,1],"nice":false},"axis":null},"x2":{"datum":1},"y":{"datum":51,"type":"quantitative","scale":{"domain":[0,77],"nice":false,"reverse":true},"axis":null}}},
    {"mark": {"type":"text","text":"万联证券研究所","font":"Noto Sans CJK SC","fontSize":12,"color":"#1a1a1a","align":"left","baseline":"middle"},
     "encoding": {"x":{"datum":0.004,"type":"quantitative","scale":{"domain":[0,1],"nice":false},"axis":null},"y":{"datum":63,"type":"quantitative","scale":{"domain":[0,77],"nice":false,"reverse":true},"axis":null}}},
    {"mark": {"type":"text","text":"www.wlzq.cn","font":"Liberation Serif","fontSize":13,"color":"#1a1a1a","align":"left","baseline":"middle"},
     "encoding": {"x":{"datum":0.148,"type":"quantitative","scale":{"domain":[0,1],"nice":false},"axis":null},"y":{"datum":63,"type":"quantitative","scale":{"domain":[0,77],"nice":false,"reverse":true},"axis":null}}},
    {"mark": {"type":"text","text":"第4页共7页","font":"Noto Sans CJK SC","fontSize":10.5,"color":"#1a1a1a","align":"right","baseline":"middle"},
     "encoding": {"x":{"datum":0.9937,"type":"quantitative","scale":{"domain":[0,1],"nice":false},"axis":null},"y":{"datum":63,"type":"quantitative","scale":{"domain":[0,77],"nice":false,"reverse":true},"axis":null}}}
   ]}
]
}
